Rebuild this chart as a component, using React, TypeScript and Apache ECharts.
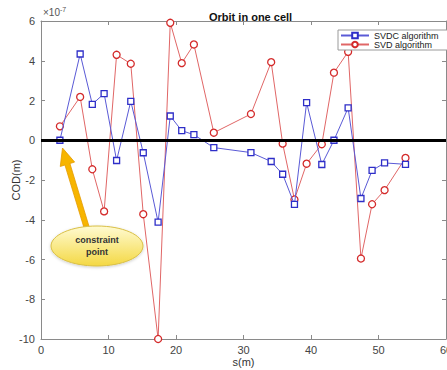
import React, { useEffect, useRef } from "react";
import * as echarts from "echarts";

// s positions (m)
const S = [2.8, 5.8, 7.6, 9.35, 11.2, 13.3, 15.15, 17.35, 19.15, 20.85, 22.65, 25.6, 31.1, 34.1, 35.8, 37.55, 39.35, 41.6, 43.4, 45.5, 47.4, 49.05, 50.9, 54.0];
// COD values in units of 1e-7 m
const SVDC = [0, 4.34, 1.81, 2.35, -1.02, 1.96, -0.63, -4.12, 1.22, 0.48, 0.28, -0.37, -0.62, -1.07, -1.71, -3.23, 1.89, -1.22, 0, 1.63, -2.93, -1.52, -1.14, -1.21];
const SVD = [0.7, 2.18, -1.46, -3.58, 4.3, 3.85, -3.72, -10.0, 5.91, 3.88, 4.82, 0.38, 1.32, 3.93, -0.17, -2.98, -1.18, -0.2, 3.4, 4.45, -5.95, -3.22, -2.51, -0.89];
const SERIES_NAMES = ["SVDC algorithm", "SVD algorithm"];

const FONT = "'Liberation Sans', Arial, Helvetica, sans-serif";

export default function App() {
  const ref = useRef<HTMLDivElement>(null);
  useEffect(() => {
    document.body.style.margin = "0";
    const chart = echarts.init(ref.current!, null, { renderer: "svg" });
    const axisCommon = {
      type: "value",
      axisLine: { show: true, onZero: false, lineStyle: { color: "#8a8a8a", width: 1 } },
      axisTick: { show: true, inside: true, length: 4, lineStyle: { color: "#8a8a8a" } },
      splitLine: { show: false },
    };
    // arrow geometry (pixels)
    const tip = [62.5, 148];
    const base = [88, 232];
    const dx = tip[0] - base[0], dy = tip[1] - base[1];
    const len = Math.hypot(dx, dy);
    const u = [dx / len, dy / len];
    const n = [-u[1], u[0]];
    const headLen = 17, headW = 7.5, shaftW = 2.6;
    const H = [tip[0] - headLen * u[0], tip[1] - headLen * u[1]];
    const pt = (p: number[], k: number) => [p[0] + k * n[0], p[1] + k * n[1]];
    const arrowPts = [tip, pt(H, headW), pt(H, shaftW), pt(base, shaftW), pt(base, -shaftW), pt(H, -shaftW), pt(H, -headW)];

    chart.setOption({
      animation: false,
      backgroundColor: "#fff",
      textStyle: { fontFamily: FONT },
      title: {
        text: "Orbit in one cell",
        left: 204,
        top: 6,
        textStyle: { fontSize: 11, fontWeight: "bold", color: "#111", fontFamily: FONT },
      },
      grid: { left: 41, right: 1, top: 21, bottom: 31, containLabel: false, outerBoundsMode: "none" },
      legend: {
        data: SERIES_NAMES,
        orient: "vertical",
        left: 338,
        top: 30,
        padding: [1, 20, 1, 2],
        itemGap: 0,
        itemWidth: 28,
        itemHeight: 7,
        backgroundColor: "#fff",
        borderColor: "#9a9a9a",
        borderWidth: 1,
        borderRadius: 0,
        textStyle: { fontSize: 9, color: "#222", fontFamily: FONT, padding: [0, 0, 0, 0] },
      },
      xAxis: [
        {
          ...axisCommon,
          min: 0,
          max: 60,
          interval: 10,
          position: "bottom",
          name: "s(m)",
          nameLocation: "middle",
          nameGap: 17,
          nameMoveOverlap: false,
          nameTextStyle: { fontSize: 11, color: "#333", fontFamily: FONT },
          axisLabel: { fontSize: 11, color: "#444", margin: 5, fontFamily: FONT },
        },
        {
          ...axisCommon,
          min: 0,
          max: 60,
          interval: 10,
          position: "top",
          axisLabel: { show: false },
        },
      ],
      yAxis: [
        {
          ...axisCommon,
          min: -10,
          max: 6,
          interval: 2,
          position: "left",
          name: "COD(m)",
          nameLocation: "middle",
          nameGap: 20,
          nameMoveOverlap: false,
          nameTextStyle: { fontSize: 11, color: "#333", fontFamily: FONT },
          axisLabel: { fontSize: 11, color: "#444", margin: 6, fontFamily: FONT },
        },
        {
          ...axisCommon,
          min: -10,
          max: 6,
          interval: 2,
          position: "right",
          axisLabel: { show: false },
        },
      ],
      series: [
        {
          name: SERIES_NAMES[0],
          type: "line",
          data: S.map((s, i) => [s, SVDC[i]]),
          symbol: "rect",
          symbolSize: 6,
          lineStyle: { color: "#5a5ad6", width: 1 },
          itemStyle: { color: "#fff", borderColor: "#2e2ec8", borderWidth: 1.3 },
          z: 3,
          markLine: {
            silent: true,
            symbol: ["none", "none"],
            label: { show: false },
            lineStyle: { color: "#000", width: 3, type: "solid" },
            data: [{ yAxis: 0 }],
            z: 5,
          },
        },
        {
          name: SERIES_NAMES[1],
          type: "line",
          data: S.map((s, i) => [s, SVD[i]]),
          symbol: "circle",
          symbolSize: 7,
          lineStyle: { color: "#e06666", width: 1 },
          itemStyle: { color: "#fff", borderColor: "#d42a2a", borderWidth: 1.3 },
          z: 2,
        },
      ],
      graphic: [
        {
          type: "text",
          left: 43,
          top: 6,
          style: {
            text: "×10{sup|-7}",
            fontSize: 10,
            fill: "#555",
            fontFamily: FONT,
            rich: { sup: { fontSize: 7, fill: "#555", verticalAlign: "top", padding: [0, 0, 6, 0] } },
          },
        },
        {
          type: "polygon",
          z: 10,
          shape: { points: arrowPts },
          style: { fill: "#f7b500", stroke: "#e49a00", lineWidth: 0.8 },
        },
        {
          type: "ellipse",
          z: 11,
          shape: { cx: 97, cy: 246, rx: 46, ry: 20 },
          style: {
            fill: new echarts.graphic.LinearGradient(0, 0, 0, 1, [
              { offset: 0, color: "#fffbd2" },
              { offset: 1, color: "#f4d843" },
            ]),
            stroke: "#d9bf45",
            lineWidth: 1,
            shadowBlur: 3,
            shadowColor: "rgba(0,0,0,0.2)",
            shadowOffsetY: 1,
          },
        },
        {
          type: "text",
          z: 12,
          x: 97,
          y: 246,
          style: {
            text: "constraint\npoint",
            align: "center",
            verticalAlign: "middle",
            fontSize: 9,
            fontWeight: "bold",
            lineHeight: 12,
            fill: "#333",
            fontFamily: FONT,
          },
        },
      ],
    });
    return () => chart.dispose();
  }, []);
  return <div ref={ref} style={{ width: 447, height: 370 }} />;
}
